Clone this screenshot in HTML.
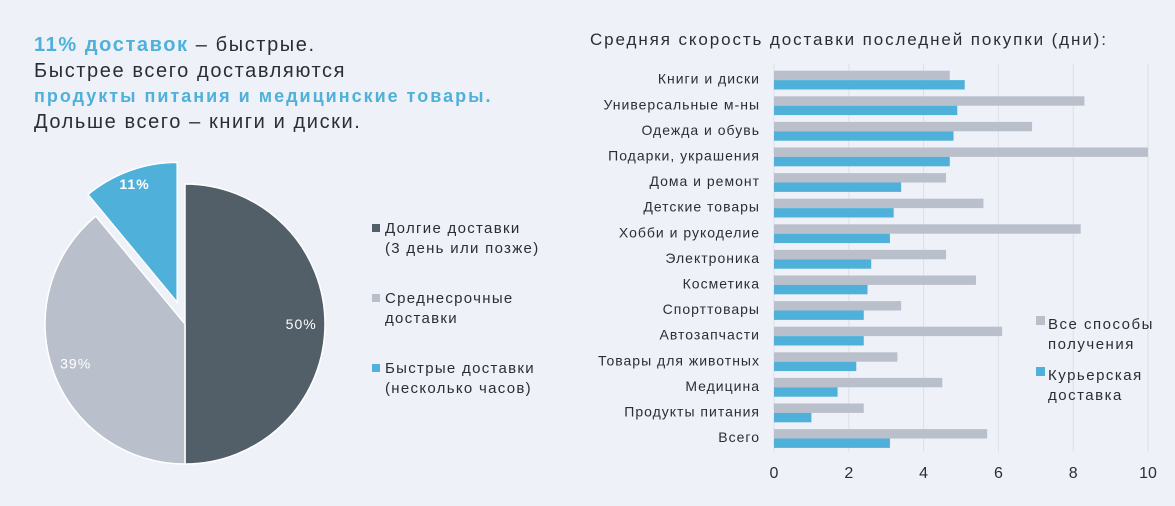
<!DOCTYPE html>
<html><head><meta charset="utf-8"><style>
body{margin:0;width:1175px;height:506px;background:#eef1f8;font-family:"Liberation Sans","DejaVu Sans",sans-serif;color:#2b2f33;overflow:hidden;position:relative}
.h{position:absolute;left:34px;top:33px;font-size:20px;line-height:25.5px;letter-spacing:1.6px;white-space:nowrap}
.b{color:#4fb1d9;font-weight:bold}
.lg{position:absolute;left:372px;font-size:15px;line-height:20px;letter-spacing:1.3px;white-space:nowrap}
.lg i{display:inline-block;width:8px;height:8px;margin-right:5px;vertical-align:1px}
</style></head><body>
<div class="h"><span class="b">11% доставок</span> – быстрые.<br>Быстрее всего доставляются<br><span class="b" style="font-size:18px;letter-spacing:2px">продукты питания и медицинские товары.</span><br>Дольше всего – книги и диски.</div>
<svg id="pie" width="360" height="330" style="position:absolute;left:0;top:150px"></svg>
<div class="lg" style="top:219px"><i style="background:#525e68"></i>Долгие доставки<br><span style="margin-left:13px">(3 день или позже)</span></div>
<div class="lg" style="top:289px"><i style="background:#bac0cb"></i>Среднесрочные<br><span style="margin-left:13px">доставки</span></div>
<div class="lg" style="top:359px"><i style="background:#4fb1d9"></i>Быстрые доставки<br><span style="margin-left:13px">(несколько часов)</span></div>
<svg id="bar" width="1175" height="506" style="position:absolute;left:0;top:0"></svg>
<script>
const pieLabels=["50%","39%","11%"];
const pieValues=[50,39,11];
const pieColors=["#525e68","#bac0cb","#4fb1d9"];
const cats=["Книги и диски","Универсальные м-ны","Одежда и обувь","Подарки, украшения","Дома и ремонт","Детские товары","Хобби и рукоделие","Электроника","Косметика","Спорттовары","Автозапчасти","Товары для животных","Медицина","Продукты питания","Всего"];
const allVals=[4.7,8.3,6.9,10,4.6,5.6,8.2,4.6,5.4,3.4,6.1,3.3,4.5,2.4,5.7];
const courierVals=[5.1,4.9,4.8,4.7,3.4,3.2,3.1,2.6,2.5,2.4,2.4,2.2,1.7,1.0,3.1];
const ticks=[0,2,4,6,8,10];
const NS="http://www.w3.org/2000/svg";
function mk(p,t,a,txt){const e=document.createElementNS(NS,t);for(const k in a)e.setAttribute(k,a[k]);if(txt!=null)e.textContent=txt;p.appendChild(e);return e;}
const pie=document.getElementById('pie');
const cx=185,cy=174,r=140;let acc=0;const tot=pieValues.reduce((a,b)=>a+b,0);
pieValues.forEach((v,i)=>{
 const a0=acc/tot*2*Math.PI,a1=(acc+v)/tot*2*Math.PI;acc+=v;
 const mid=(a0+a1)/2,off=i==2?23:0;
 const ox=cx+off*Math.sin(mid),oy=cy-off*Math.cos(mid);
 const x0=ox+r*Math.sin(a0),y0=oy-r*Math.cos(a0),x1=ox+r*Math.sin(a1),y1=oy-r*Math.cos(a1);
 const s=mk(pie,'path',{d:`M${ox},${oy}L${x0},${y0}A${r},${r} 0 ${a1-a0>Math.PI?1:0} 1 ${x1},${y1}Z`,fill:pieColors[i],stroke:'#fff','stroke-width':1.5});
 
 
 const lr=i==2?r*0.9:r*0.83;
 const t=mk(pie,'text',{x:ox+lr*Math.sin(mid),y:oy-lr*Math.cos(mid)+5,'text-anchor':'middle',fill:'#fff','font-size':14,'letter-spacing':1,'font-weight':i==2?'bold':'normal'},pieLabels[i]);
 
 
});
const svg=document.getElementById('bar');
const X0=774,X1=1148,xs=v=>X0+(X1-X0)*v/10;
const Y0=70.7,pitch=25.6,bh=9.4;
mk(svg,'text',{x:590,y:45,'font-size':17,'letter-spacing':1.9,fill:'#2b2f33'},'Средняя скорость доставки последней покупки (дни):');
ticks.forEach(t=>{
 const g=mk(svg,'line',{x1:xs(t),x2:xs(t),y1:64,y2:452,stroke:'#dde0e6','stroke-width':1});
 
 
 const l=mk(svg,'text',{x:xs(t),y:478,'text-anchor':'middle','font-size':16,fill:'#2b2f33'},String(t));
 
 
});
cats.forEach((c,i)=>{
 const y=Y0+i*pitch;
 const l=mk(svg,'text',{x:760,y:y+13,'text-anchor':'end','font-size':14,'letter-spacing':1,fill:'#2b2f33'},c);
 
 
 const a=mk(svg,'rect',{x:X0,y:y,width:xs(allVals[i])-X0,height:bh,fill:'#bac0cb'});
 
 
 const b=mk(svg,'rect',{x:X0,y:y+bh,width:xs(courierVals[i])-X0,height:bh,fill:'#4fb1d9'});
 
 
});
[[316,'#bac0cb','Все способы','получения'],[367,'#4fb1d9','Курьерская','доставка']].forEach((d,k)=>{
 mk(svg,'rect',{x:1036,y:d[0],width:9,height:9,fill:d[1]});
 const t1=mk(svg,'text',{x:1048,y:d[0]+13,'font-size':15,'letter-spacing':1.5,fill:'#2b2f33'},d[2]);
 
 
 mk(svg,'text',{x:1048,y:d[0]+33,'font-size':15,'letter-spacing':1.5,fill:'#2b2f33'},d[3]);
});
</script>
</body></html>
